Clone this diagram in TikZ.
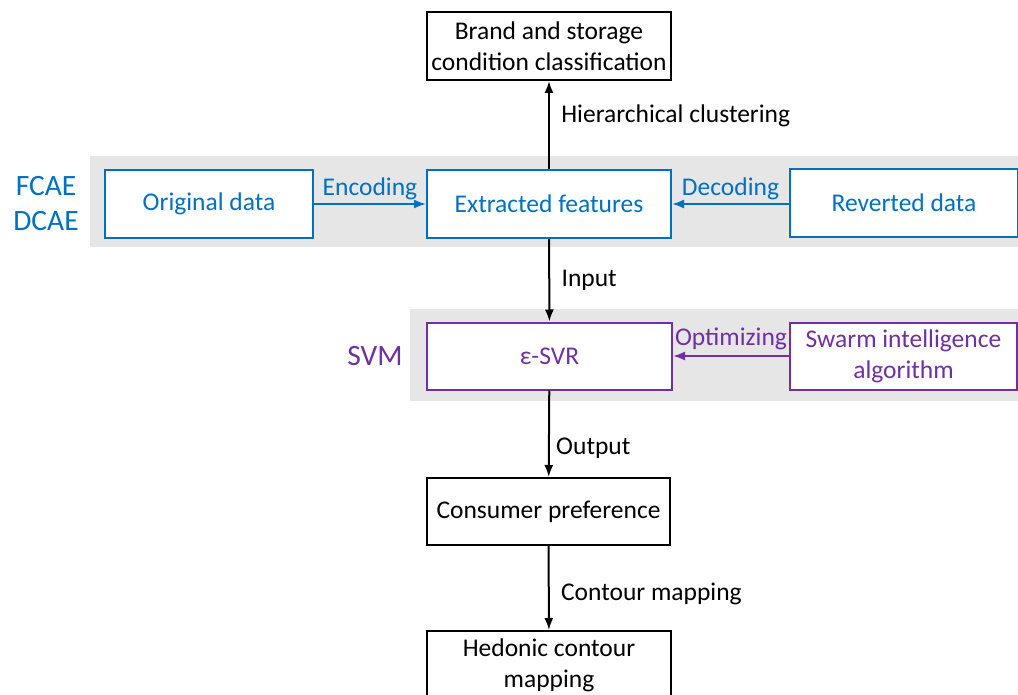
\documentclass[tikz,border=0pt]{standalone}
\usepackage{fontspec}
\setmainfont{Carlito}
\usetikzlibrary{arrows.meta,positioning}
\definecolor{aeblue}{HTML}{0070C0}
\definecolor{svmpurple}{HTML}{7030A0}
\definecolor{bandgray}{HTML}{E6E6E6}
\begin{document}
\begin{tikzpicture}[x=1pt, y=-1pt, line width=2pt, font=\fontsize{25.5}{31}\selectfont,
    main/.style = {draw, rectangle, fill=white, align=center, minimum height=68pt, inner sep=1pt},
    blue/.style = {main, draw=aeblue, text=aeblue},
    purple/.style = {main, draw=svmpurple, text=svmpurple},
    side/.style = {font=\fontsize{29.5}{35}\selectfont, align=center},
    flow/.style = {-{Latex[length=12pt,width=9pt]}}]
    \useasboundingbox (0,0) rectangle (1018,695);

    % gray bands
    \fill[bandgray] (90,156) rectangle (1018,247);
    \fill[bandgray] (410,309) rectangle (1018,401);

    \node[main, minimum width=244pt] (top) at (549,46) {Brand and storage\\condition classification};
    \node[blue, minimum width=208pt] (orig) at (209,204) {Original data};
    \node[blue, minimum width=244pt] (feat) at (549,204) {Extracted features};
    \node[blue, minimum width=228pt] (rev) at (904,203) {Reverted data};
    \node[purple, minimum width=245pt, minimum height=67pt] (svr) at (549.5,356) {ε-SVR};
    \node[purple, minimum width=227pt, minimum height=67pt] (swarm) at (903.5,356) {Swarm intelligence\\algorithm};
    \node[main, minimum width=243pt, minimum height=67pt] (cons) at (548.5,511.5) {Consumer preference};
    \node[main, minimum width=244pt] (hed) at (549,665) {Hedonic contour\\mapping};

    \node[side, text=aeblue] (ae) at (46,204) {FCAE\\DCAE};
    \node[side, text=svmpurple] (svm) at (375,356) {SVM};

    \draw[flow] (feat) -- node[pos=0.6, right=8pt] {Hierarchical clustering} (top);
    \draw[flow, aeblue] (orig) -- node[above, text=aeblue] {Encoding} (feat);
    \draw[flow, aeblue] (rev.west |- feat) -- node[above, text=aeblue] {Decoding} (feat);
    \draw[flow] (feat) -- node[right=8pt] {Input} (svr);
    \draw[flow, svmpurple] (swarm) -- node[above=2pt, text=svmpurple] {Optimizing} (svr);
    \draw[flow] (svr) -- node[pos=0.67, right=3pt] {Output} (cons);
    \draw[flow] (cons) -- node[pos=0.57, right=8pt] {Contour mapping} (hed);
\end{tikzpicture}
\end{document}
